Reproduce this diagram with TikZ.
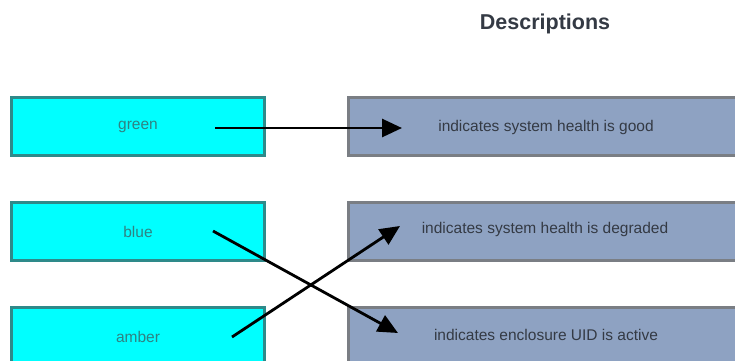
\documentclass[tikz,border=0pt]{standalone}
\usepackage{fontspec}
\setmainfont{Liberation Sans}
\usetikzlibrary{arrows.meta}
\definecolor{cyanfill}{HTML}{00FFFF}
\definecolor{cyanedge}{HTML}{2E8A8A}
\definecolor{cyantext}{HTML}{2F8282}
\definecolor{descfill}{HTML}{8EA2C2}
\definecolor{descedge}{HTML}{7A7E84}
\definecolor{desctext}{HTML}{343A44}
\tikzset{
  keybox/.style={draw=cyanedge, line width=3pt, fill=cyanfill, minimum width=253pt, minimum height=58pt, inner sep=0pt, text=cyantext, font=\fontsize{15.5}{18}\selectfont},
  descbox/.style={draw=descedge, line width=3pt, fill=descfill, minimum width=400pt, minimum height=58pt, inner sep=0pt},
  desclabel/.style={text=desctext, font=\fontsize{15.5}{18}\selectfont},
  link/.style={line width=2.8pt, -{Triangle[length=20pt,width=18pt]}}
}
\begin{document}
\begin{tikzpicture}[x=1pt,y=1pt]
\clip (0,0) rectangle (735,-360);
\fill[white] (0,0) rectangle (735,-360);
\node[font=\bfseries\fontsize{21.5}{24}\selectfont, text=desctext] (title) at (545,-24) {Descriptions};
\node[keybox, anchor=north west] (green) at (10,-96) {green};
\node[keybox, anchor=north west] (blue) at (10,-201) {blue};
\node[keybox, anchor=north west] (amber) at (10,-306) {amber};
\node[descbox, anchor=north west] (good) at (347,-96) {};
\node[descbox, anchor=north west] (degr) at (347,-201) {};
\node[descbox, anchor=north west] (uid) at (347,-306) {};
\node[desclabel] (tgood) at (546,-127) {indicates system health is good};
\node[desclabel] (tdegr) at (545,-229) {indicates system health is degraded};
\node[desclabel] (tuid) at (546,-335) {indicates enclosure UID is active};
\coordinate (gs) at (215,-128);
\coordinate (ge) at (402,-128);
\coordinate (bs) at (213,-231);
\coordinate (be) at (398,-333);
\coordinate (as) at (232,-337);
\coordinate (ae) at (400,-226);
\draw[link] (gs) -- (ge);
\draw[link] (bs) -- (be);
\draw[link] (as) -- (ae);
\end{tikzpicture}
\end{document}
